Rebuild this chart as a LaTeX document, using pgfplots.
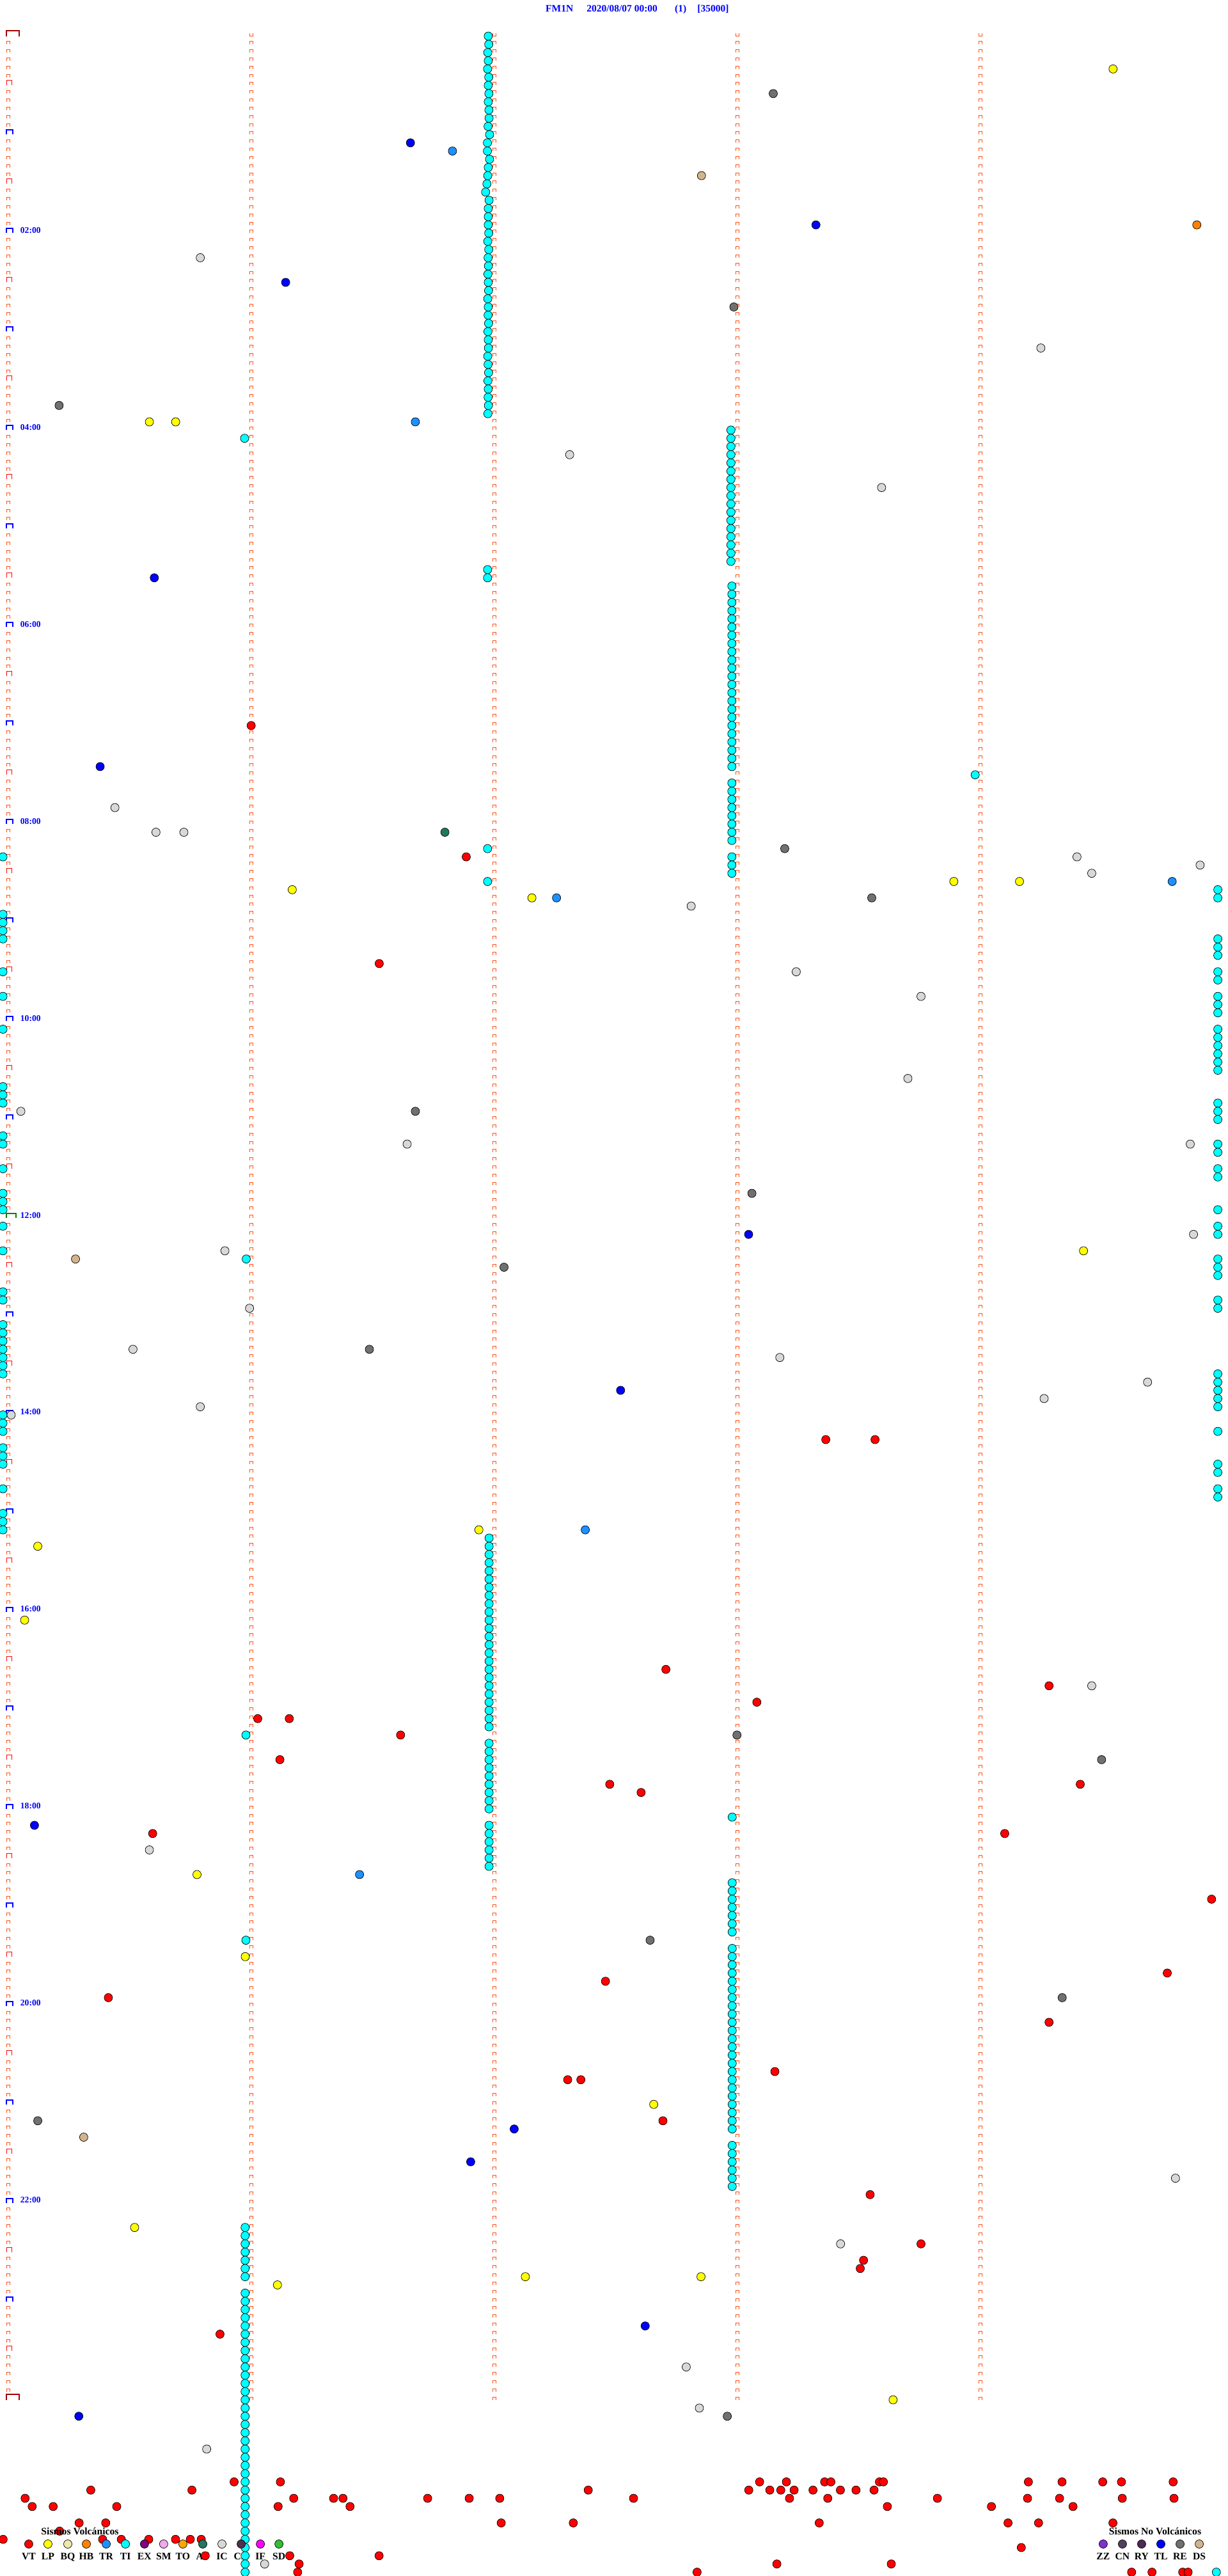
\documentclass[border=0pt]{standalone}
\usepackage{pgfplots}
\pgfplotsset{compat=1.18}
\usepackage{fontspec}
\setmainfont{Liberation Serif}

% event colours (legend order)
\definecolor{cVT}{RGB}{255,0,0}
\definecolor{cLP}{RGB}{255,255,0}
\definecolor{cBQ}{RGB}{238,232,170}
\definecolor{cHB}{RGB}{255,128,0}
\definecolor{cTR}{RGB}{30,144,255}
\definecolor{cTI}{RGB}{0,255,255}
\definecolor{cEX}{RGB}{128,0,128}
\definecolor{cSM}{RGB}{238,170,238}
\definecolor{cTO}{RGB}{255,165,0}
\definecolor{cAV}{RGB}{32,120,96}
\definecolor{cIC}{RGB}{216,216,216}
\definecolor{cCA}{RGB}{80,48,80}
\definecolor{cIF}{RGB}{255,0,255}
\definecolor{cSD}{RGB}{50,190,50}
\definecolor{cZZ}{RGB}{128,48,208}
\definecolor{cCN}{RGB}{80,64,96}
\definecolor{cRY}{RGB}{80,40,88}
\definecolor{cTL}{RGB}{0,0,255}
\definecolor{cRE}{RGB}{112,112,112}
\definecolor{cDS}{RGB}{210,180,140}
\definecolor{tickc}{RGB}{255,80,20}
\definecolor{dayc}{RGB}{160,0,0}
\definecolor{noonc}{RGB}{0,128,0}

% hour / half hour / day marks on the first column
\pgfdeclareplotmark{mkhalf}{%
  \pgfpathrectangle{\pgfqpoint{-3pt}{0pt}}{\pgfqpoint{9pt}{8pt}}\pgfusepathqfill
  \pgfpathmoveto{\pgfqpoint{-2.5pt}{0pt}}\pgfpathlineto{\pgfqpoint{-2.5pt}{7.5pt}}%
  \pgfpathlineto{\pgfqpoint{5.5pt}{7.5pt}}\pgfpathlineto{\pgfqpoint{5.5pt}{0pt}}\pgfusepathqstroke}
\pgfdeclareplotmark{mkhour}{%
  \pgfpathrectangle{\pgfqpoint{-4pt}{0pt}}{\pgfqpoint{12pt}{8pt}}\pgfusepathqfill
  \pgfpathmoveto{\pgfqpoint{-3pt}{0pt}}\pgfpathlineto{\pgfqpoint{-3pt}{7pt}}%
  \pgfpathlineto{\pgfqpoint{7pt}{7pt}}\pgfpathlineto{\pgfqpoint{7pt}{0pt}}\pgfusepathqstroke}
\pgfdeclareplotmark{mknoon}{%
  \pgfpathrectangle{\pgfqpoint{-4pt}{0pt}}{\pgfqpoint{17pt}{8pt}}\pgfusepathqfill
  \pgfpathmoveto{\pgfqpoint{-3pt}{0pt}}\pgfpathlineto{\pgfqpoint{-3pt}{7pt}}%
  \pgfpathlineto{\pgfqpoint{12pt}{7pt}}\pgfpathlineto{\pgfqpoint{12pt}{0pt}}\pgfusepathqstroke}
\pgfdeclareplotmark{mkday}{%
  \pgfpathrectangle{\pgfqpoint{-4pt}{0pt}}{\pgfqpoint{22pt}{10pt}}\pgfusepathqfill
  \pgfpathmoveto{\pgfqpoint{-3pt}{0pt}}\pgfpathlineto{\pgfqpoint{-3pt}{9pt}}%
  \pgfpathlineto{\pgfqpoint{17pt}{9pt}}\pgfpathlineto{\pgfqpoint{17pt}{0pt}}\pgfusepathqstroke}

\pgfplotsset{
  dot/.style={only marks, mark=*, mark size=6.5pt,
    mark options={fill=#1, draw=black, line width=0.7pt}},
}
\tikzset{
  hlab/.style={font=\fontsize{13.6pt}{16pt}\selectfont\bfseries, text=blue,
    anchor=base west, inner sep=0pt},
  ttl/.style={font=\fontsize{15.5pt}{18pt}\selectfont\bfseries, text=blue,
    anchor=base west, inner sep=0pt},
  leg/.style={font=\fontsize{15.7pt}{18pt}\selectfont\bfseries,
    anchor=base, inner sep=0pt},
}

\begin{document}
\begin{tikzpicture}
\begin{axis}[
  width=1920pt, height=4027pt, scale only axis,
  hide axis,
  xmin=0, xmax=748,            % position across the 5 min row
  ymin=-4.4037, ymax=309.47,   % row index, one row = 5 minutes
  y dir=reverse,
  clip marker paths=true,
]

% minute marks of every 5 min row
\pgfplotsinvokeforeach{5.065,153.11,301.15,449.2,597.25}{
  \draw[tickc, line width=6pt, dash pattern=on 5pt off 7.83pt]
    (axis cs:#1,-0.3897) -- (axis cs:#1,288);
  \draw[white, line width=4pt, dash pattern=on 4pt off 8.83pt]
    (axis cs:#1,-0.3118) -- (axis cs:#1,288);
}

\addplot[only marks, mark=mkhalf, mark options={draw=red, fill=white, line width=1pt}]
  coordinates {(5.065,6)(5.065,18)(5.065,30)(5.065,42)(5.065,54)(5.065,66)
  (5.065,78)(5.065,90)(5.065,102)(5.065,114)(5.065,126)(5.065,138)(5.065,150)
  (5.065,162)(5.065,174)(5.065,186)(5.065,198)(5.065,210)(5.065,222)(5.065,234)
  (5.065,246)(5.065,258)(5.065,270)(5.065,282)};
\addplot[only marks, mark=mkhour, mark options={draw=blue, fill=white, line width=2pt}]
  coordinates {(5.065,12)(5.065,24)(5.065,36)(5.065,48)(5.065,60)(5.065,72)
  (5.065,84)(5.065,96)(5.065,108)(5.065,120)(5.065,132)(5.065,156)(5.065,168)
  (5.065,180)(5.065,192)(5.065,204)(5.065,216)(5.065,228)(5.065,240)(5.065,252)
  (5.065,264)(5.065,276)};
\addplot[only marks, mark=mknoon, mark options={draw=noonc, fill=white, line width=2pt}]
  coordinates {(5.065,144)};
\addplot[only marks, mark=mkday, mark options={draw=dayc, fill=white, line width=2pt}]
  coordinates {(5.065,0)(5.065,288)};

% hour labels
\node[hlab] at (axis cs:12.35,24) {02:00};
\node[hlab] at (axis cs:12.35,48) {04:00};
\node[hlab] at (axis cs:12.35,72) {06:00};
\node[hlab] at (axis cs:12.35,96) {08:00};
\node[hlab] at (axis cs:12.35,120) {10:00};
\node[hlab] at (axis cs:12.35,144) {12:00};
\node[hlab] at (axis cs:12.35,168) {14:00};
\node[hlab] at (axis cs:12.35,192) {16:00};
\node[hlab] at (axis cs:12.35,216) {18:00};
\node[hlab] at (axis cs:12.35,240) {20:00};
\node[hlab] at (axis cs:12.35,264) {22:00};

% legend labels (under the events)
\node[leg] at (axis cs:17.5,307.5) {VT};
\node[leg] at (axis cs:29.2,307.5) {LP};
\node[leg] at (axis cs:41.3,307.5) {BQ};
\node[leg] at (axis cs:52.6,307.5) {HB};
\node[leg] at (axis cs:64.7,307.5) {TR};
\node[leg] at (axis cs:76.4,307.5) {TI};
\node[leg] at (axis cs:88.0,307.5) {EX};
\node[leg] at (axis cs:99.7,307.5) {SM};
\node[leg] at (axis cs:111.4,307.5) {TO};
\node[leg] at (axis cs:123.5,307.5) {AV};
\node[leg] at (axis cs:135.2,307.5) {IC};
\node[leg] at (axis cs:146.9,307.5) {CA};
\node[leg] at (axis cs:158.6,307.5) {IF};
\node[leg] at (axis cs:169.9,307.5) {SD};
\node[leg] at (axis cs:672.0,307.5) {ZZ};
\node[leg] at (axis cs:683.7,307.5) {CN};
\node[leg] at (axis cs:695.4,307.5) {RY};
\node[leg] at (axis cs:707.1,307.5) {TL};
\node[leg] at (axis cs:718.8,307.5) {RE};
\node[leg] at (axis cs:730.5,307.5) {DS};

% TI
\addplot[dot=cTI] coordinates {
(297.4,0)(297.7,1)(297.1,2)(297.4,3)(297.0,4)(297.7,5)(297.4,6)(297.8,7)(297.4,8)
(297.8,9)(297.9,10)(297.3,11)(298.2,12)(296.9,13)(296.9,14)(298.2,15)(297.4,16)
(297.1,17)(296.6,18)(295.8,19)(297.9,20)(297.4,21)(297.4,22)(297.4,23)(297.7,24)
(297.1,25)(297.7,26)(297.3,27)(297.5,28)(297.2,29)(297.4,30)(297.6,31)(297.1,32)
(297.4,33)(297.3,34)(297.6,35)(297.2,36)(297.4,37)(297.5,38)(297.1,39)(297.3,40)
(297.6,41)(297.2,42)(297.4,43)(297.3,44)(297.5,45)(297.2,46)
(149,49)
(445.2,48)(445.2,49)(445.2,50)(445.2,51)(445.2,52)(445.2,53)(445.2,54)(445.2,55)
(445.2,56)(445.2,57)(445.2,58)(445.2,59)(445.2,60)(445.2,61)(445.2,62)(445.2,63)
(445.2,64)
(297,65)(297,66)
(445.8,67)(445.8,68)(445.8,69)(445.8,70)(445.8,71)(445.8,72)(445.8,73)(445.8,74)
(445.8,75)(445.8,76)(445.8,77)(445.8,78)(445.8,79)(445.8,80)(445.8,81)(445.8,82)
(445.8,83)(445.8,84)(445.8,85)(445.8,86)(445.8,87)(445.8,88)(445.8,89)
(594,90)
(445.8,91)(445.8,92)(445.8,93)(445.8,94)(445.8,95)(445.8,96)(445.8,97)(445.8,98)
(297,99)
(445.8,100)(445.8,101)(445.8,102)
(297,103)
(741.8,104)(741.8,105)(741.8,110)(741.8,111)(741.8,112)(741.8,114)(741.8,115)
(741.8,117)(741.8,118)(741.8,119)(741.8,121)(741.8,122)(741.8,123)(741.8,124)
(741.8,125)(741.8,126)(741.8,130)(741.8,131)(741.8,132)(741.8,135)(741.8,136)
(741.8,138)(741.8,139)(741.8,143)(741.8,145)(741.8,146)(741.8,149)(741.8,150)
(741.8,151)(741.8,154)(741.8,155)(741.8,163)(741.8,164)(741.8,165)(741.8,166)
(741.8,167)(741.8,170)(741.8,174)(741.8,175)(741.8,177)(741.8,178)
(1.8,100)(1.8,107)(1.8,108)(1.8,109)(1.8,110)(1.8,114)(1.8,117)(1.8,121)
(1.8,128)(1.8,129)(1.8,130)(1.8,134)(1.8,135)(1.8,138)(1.8,141)(1.8,142)
(1.8,143)(1.8,145)(1.8,148)(1.8,153)(1.8,154)(1.8,157)(1.8,158)(1.8,159)
(1.8,160)(1.8,161)(1.8,162)(1.8,163)(1.8,168)(1.8,169)(1.8,170)(1.8,172)
(1.8,173)(1.8,174)(1.8,177)(1.8,180)(1.8,181)(1.8,182)
(150,149)
(297.9,183)(297.9,184)(297.9,185)(297.9,186)(297.9,187)(297.9,188)(297.9,189)
(297.9,190)(297.9,191)(297.9,192)(297.9,193)(297.9,194)(297.9,195)(297.9,196)
(297.9,197)(297.9,198)(297.9,199)(297.9,200)(297.9,201)(297.9,202)(297.9,203)
(297.9,204)(297.9,205)(297.9,206)
(149.8,207)
(297.9,208)(297.9,209)(297.9,210)(297.9,211)(297.9,212)(297.9,213)(297.9,214)
(297.9,215)(297.9,216)
(446,217)
(297.9,218)(297.9,219)(297.9,220)(297.9,221)(297.9,222)(297.9,223)
(446,225)(446,226)(446,227)(446,228)(446,229)(446,230)(446,231)
(149.8,232)
(446,233)(446,234)(446,235)(446,236)(446,237)(446,238)(446,239)(446,240)
(446,241)(446,242)(446,243)(446,244)(446,245)(446,246)(446,247)(446,248)
(446,249)(446,250)(446,251)(446,252)(446,253)(446,254)(446,255)
(446,257)(446,258)(446,259)(446,260)(446,261)(446,262)
(149.3,267)(149.3,268)(149.3,269)(149.3,270)(149.3,271)(149.3,272)(149.3,273)
(149.3,275)(149.3,276)(149.3,277)(149.3,278)(149.3,279)(149.3,280)(149.3,281)
(149.3,282)(149.3,283)(149.3,284)(149.3,285)(149.3,286)(149.3,287)(149.3,288)
(149.3,289)(149.3,290)(149.3,291)(149.3,292)(149.3,293)(149.3,294)(149.3,295)
(149.3,296)(149.3,297)(149.3,298)(149.3,299)(149.3,300)(149.3,301)(149.3,302)
(149.3,303)(149.3,304)(149.3,305)(149.3,306)(149.3,307)(149.3,308)(149.3,309)
(740.9,309)
};

% VT
\addplot[dot=cVT] coordinates {
(153,84)(284,100)(231,113)(503,171)(533,171)(405.6,199)(639,201)(461,203)(157,205)
(176.2,205)(244,207)(170.5,210)(371.4,213)(658,213)(390.5,214)(93,219)(612,219)(738,227)
(711,236)(368.8,237)(66,239)(639,242)(472,248)(345.8,249)(353.8,249)(403.8,254)(530,263)
(561,269)(526,271)(524,272)(134,280)
(142.6,298)(170.8,298)(462.7,298)(479.0,298)(502.3,298)(506.1,298)(535.7,298)
(538.1,298)(626.4,298)(646.9,298)(671.7,298)(683.1,298)(714.6,298)
(55.3,299)(116.9,299)(358.3,299)(456.1,299)(468.9,299)(475.6,299)(483.7,299)
(495.2,299)(511.9,299)(521.4,299)(532.4,299)
(15.3,300)(178.9,300)(203.2,300)(208.9,300)(260.5,300)(285.8,300)(304.4,300)
(385.9,300)(480.9,300)(504.2,300)(571.0,300)(625.9,300)(645.4,300)(683.6,300)
(715.1,300)
(19.6,301)(32.4,301)(71.1,301)(169.4,301)(213.2,301)(540.5,301)(603.9,301)
(653.6,301)
(48.2,303)(64.4,303)(305.3,303)(349.2,303)(499.0,303)(614.0,303)(632.6,303)
(677.9,303)
(36.3,304)
(1.9,305)(62.5,305)(73.9,305)(90.6,305)(106.9,305)(115.9,305)(122.6,305)
(622.1,306)
(125.0,307)(176.5,307)(230.9,307)
(182.2,308)(473.2,308)(542.9,308)
(181.3,309)(424.6,309)(689.3,309)(701.7,309)(720.4,309)(723.7,309)
};

% LP
\addplot[dot=cLP] coordinates {
(678,4)(91,47)(107,47)(581,103)(621,103)(178,104)(324,105)(660,148)(291.7,182)
(23,184)(15,193)(120,224)(149.4,234)(398.2,252)(82,267)(320,273)(427,273)(169,274)
(544,288)
};
% TR
\addplot[dot=cTR] coordinates {
(275.6,14)(253,47)(714,103)(339,105)(356.5,182)(219,224)
};
% TL
\addplot[dot=cTL] coordinates {
(250,13)(497,23)(174,30)(94,66)(61,89)(456,146)(378,165)(21,218)(313.2,255)
(286.7,259)(393,279)(48,290)
};
% RE
\addplot[dot=cRE] coordinates {
(471,7)(447,33)(36,45)(478,99)(531,105)(253,131)(458,141)(307,150)(225,160)
(448.9,207)(671,210)(396,232)(647,239)(23,254)(443,290)
};
% IC
\addplot[dot=cIC] coordinates {
(122,27)(634,38)(347,51)(537,55)(70,94)(95,97)(112,97)(656,100)(731,101)(665,102)
(421,106)(485,114)(561,117)(553,127)(12.7,131)(248,135)(725,135)(727,146)
(137,148)(152,155)(81,160)(475,161)(699,164)(636,166)(122,167)(6.8,168)
(665,201)(91,221)(716,261)(512,269)(418,284)(426,289)(125.9,294)(161.2,308)
};
% DS
\addplot[dot=cDS] coordinates {(427.3,17)(46,149)(51,256)};
% AV
\addplot[dot=cAV] coordinates {(271,97)};
% HB
\addplot[dot=cHB] coordinates {(729,23)};

% legend markers
\addplot[dot=cVT] coordinates {(17.5,305.57)};
\addplot[dot=cLP] coordinates {(29.2,305.57)};
\addplot[dot=cBQ] coordinates {(41.3,305.57)};
\addplot[dot=cHB] coordinates {(52.6,305.57)};
\addplot[dot=cTR] coordinates {(64.7,305.57)};
\addplot[dot=cTI] coordinates {(76.4,305.57)};
\addplot[dot=cEX] coordinates {(88.0,305.57)};
\addplot[dot=cSM] coordinates {(99.7,305.57)};
\addplot[dot=cTO] coordinates {(111.4,305.57)};
\addplot[dot=cAV] coordinates {(123.5,305.57)};
\addplot[dot=cIC] coordinates {(135.2,305.57)};
\addplot[dot=cCA] coordinates {(146.9,305.57)};
\addplot[dot=cIF] coordinates {(158.6,305.57)};
\addplot[dot=cSD] coordinates {(169.9,305.57)};
\addplot[dot=cZZ] coordinates {(672.0,305.57)};
\addplot[dot=cCN] coordinates {(683.7,305.57)};
\addplot[dot=cRY] coordinates {(695.4,305.57)};
\addplot[dot=cTL] coordinates {(707.1,305.57)};
\addplot[dot=cRE] coordinates {(718.8,305.57)};
\addplot[dot=cDS] coordinates {(730.5,305.57)};

\node[leg] at (axis cs:48.7,304.4) {Sismos Volcánicos};
\node[leg] at (axis cs:703.6,304.4) {Sismos No Volcánicos};

% title
\node[ttl] at (axis cs:332.3,-2.98) {FM1N};
\node[ttl] at (axis cs:357.3,-2.98) {2020/08/07 00:00};
\node[ttl] at (axis cs:411.0,-2.98) {(1)};
\node[ttl] at (axis cs:424.7,-2.98) {[35000]};
\end{axis}
\pgfresetboundingbox
\useasboundingbox (current axis.south west) rectangle (current axis.north east);
\end{tikzpicture}
\end{document}
